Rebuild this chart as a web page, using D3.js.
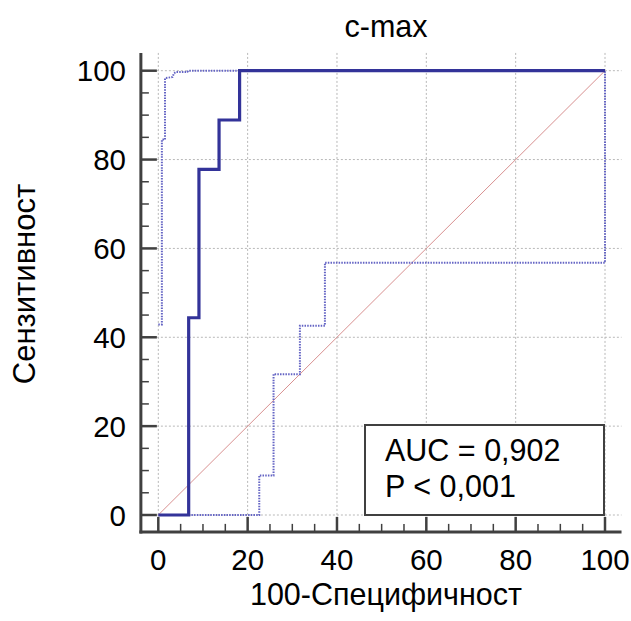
<!DOCTYPE html>
<html><head><meta charset="utf-8">
<script src="https://cdn.jsdelivr.net/npm/d3@7"></script>
<style>body{margin:0;background:#fff}svg{display:block}text{font-family:"Liberation Sans",Arial,sans-serif;fill:#000}</style>
</head><body><svg id="c" width="631" height="621"></svg>
<script>
const title = "c-max";
const xLabel = "100-Специфичност";
const yLabel = "Сензитивност";
const tickValues = [0, 20, 40, 60, 80, 100];
const rocX = [0, 6.8, 6.8, 9.1, 9.1, 13.6, 13.6, 18.2, 18.2, 100];
const rocY = [0, 0, 44.4, 44.4, 77.8, 77.8, 88.9, 88.9, 100, 100];
const upperX = [0, 0.8, 0.8, 1.5, 1.5, 3.2, 3.5, 4.0, 6.5, 6.7, 100];
const upperY = [42.9, 42.9, 84.5, 84.5, 98.3, 98.6, 99.4, 99.7, 99.7, 100, 100];
const lowerX = [6.8, 22.6, 22.6, 25.8, 25.8, 31.7, 31.7, 37.3, 37.3, 100, 100];
const lowerY = [0, 0, 8.9, 8.9, 31.7, 31.7, 42.6, 42.6, 56.8, 56.8, 100];
const aucText = ["AUC = 0,902", "P < 0,001"];

const svg = d3.select("#c");
const x = d3.scaleLinear().domain([0, 100]).range([158.3, 605]);
const y = d3.scaleLinear().domain([0, 100]).range([515, 70.7]);
const xMin = -3.9, xMax = 103.7, yMin = -3.8, yMax = 104;
const axisCol = "#404040";
const gridCol = "#b8b8b8";

// grid
const g = svg.append("g");
tickValues.forEach(v => {
  g.append("line").attr("x1", x(v)).attr("x2", x(v)).attr("y1", y(yMax)).attr("y2", y(yMin))
    .attr("stroke", gridCol).attr("stroke-width", 1).attr("stroke-dasharray", "2,2");
  g.append("line").attr("y1", y(v)).attr("y2", y(v)).attr("x1", x(xMin)).attr("x2", x(xMax))
    .attr("stroke", gridCol).attr("stroke-width", 1).attr("stroke-dasharray", "2,2");
});

// diagonal
svg.append("line").attr("x1", x(0)).attr("y1", y(0)).attr("x2", x(100)).attr("y2", y(100))
  .attr("stroke", "#d89090").attr("stroke-width", 1);

const line = d3.line().x(d => x(d[0])).y(d => y(d[1]));
const zip = (a, b) => a.map((v, i) => [v, b[i]]);

svg.append("path").attr("d", line(zip(upperX, upperY))).attr("fill", "none")
  .attr("stroke", "#6464c4").attr("stroke-width", 2).attr("stroke-dasharray", "1.5,1.2");
svg.append("path").attr("d", line(zip(lowerX, lowerY))).attr("fill", "none")
  .attr("stroke", "#6464c4").attr("stroke-width", 2).attr("stroke-dasharray", "1.5,1.2");
svg.append("path").attr("d", line(zip(rocX, rocY))).attr("fill", "none")
  .attr("stroke", "#333399").attr("stroke-width", 3.2).attr("stroke-linejoin", "miter");

// axes
const minor = d3.range(0, 101, 5);
const xAxisY = y(yMin), yAxisX = x(xMin);
svg.append("line").attr("x1", yAxisX).attr("x2", yAxisX).attr("y1", y(yMax)).attr("y2", xAxisY + 1.5)
  .attr("stroke", axisCol).attr("stroke-width", 3);
svg.append("line").attr("x1", yAxisX - 1.5).attr("x2", x(xMax)).attr("y1", xAxisY).attr("y2", xAxisY)
  .attr("stroke", axisCol).attr("stroke-width", 3);
minor.forEach(v => {
  const major = v % 20 === 0;
  svg.append("line").attr("x1", yAxisX).attr("x2", yAxisX + (major ? 16 : 8)).attr("y1", y(v)).attr("y2", y(v))
    .attr("stroke", axisCol).attr("stroke-width", major ? 2.5 : 1.5);
  svg.append("line").attr("x1", x(v)).attr("x2", x(v)).attr("y1", xAxisY).attr("y2", xAxisY - (major ? 15 : 8))
    .attr("stroke", axisCol).attr("stroke-width", major ? 2.5 : 1.5);
});
tickValues.forEach(v => {
  svg.append("text").attr("x", 126).attr("y", y(v) + 10.5).attr("text-anchor", "end")
    .style("font-size", "29.5px").text(v);
  svg.append("text").attr("x", x(v)).attr("y", 570).attr("text-anchor", "middle")
    .style("font-size", "29.5px").text(v);
});

// labels
svg.append("text").attr("x", 386).attr("y", 36.7).attr("text-anchor", "middle").style("font-size", "30.5px").text(title);
svg.append("text").attr("x", 386).attr("y", 605).attr("text-anchor", "middle").style("font-size", "30.5px").text(xLabel);
svg.append("text").attr("transform", "translate(35,284) rotate(-90)").attr("text-anchor", "middle").style("font-size", "31px").text(yLabel);

// legend box
svg.append("rect").attr("x", 365).attr("y", 425).attr("width", 239).attr("height", 90)
  .attr("fill", "#fff").attr("stroke", axisCol).attr("stroke-width", 2);
aucText.forEach((t, i) => {
  svg.append("text").attr("x", 385).attr("y", 461 + i * 35.7).style("font-size", "30.5px").text(t);
});
</script></body></html>
